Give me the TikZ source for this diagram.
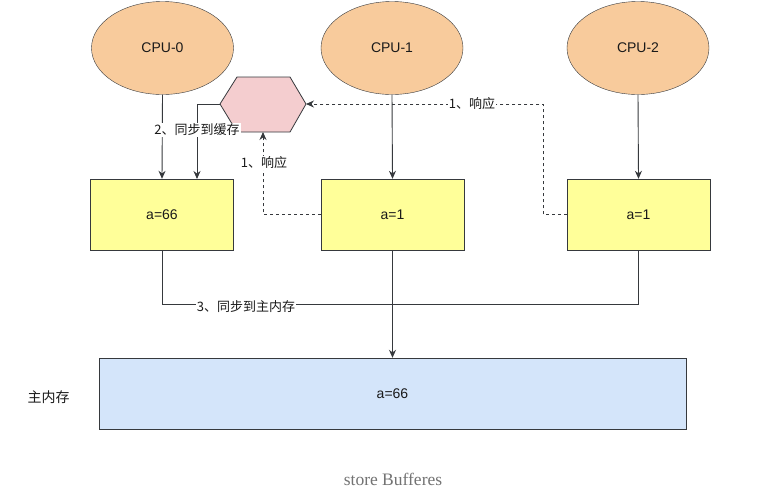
\documentclass[tikz,border=0pt]{standalone}
\usepackage{fontspec}
\setmainfont{Liberation Sans}
\newfontfamily\cjk{Noto Sans CJK SC}
\newfontfamily\capfont{Liberation Serif}
\usetikzlibrary{arrows.meta,shapes.geometric}
\definecolor{cpuf}{HTML}{F8CB9C}
\definecolor{edgec}{HTML}{36393D}
\definecolor{yelf}{HTML}{FFFF99}
\definecolor{hexf}{HTML}{F4CDCF}
\definecolor{memf}{HTML}{D4E5FA}
\definecolor{txt}{HTML}{1A1A1A}
\tikzset{
  cpu/.style={ellipse,draw=edgec,fill=cpuf,minimum width=142pt,minimum height=93pt,inner sep=0pt,font=\fontsize{14}{16}\selectfont,text=txt},
  cache/.style={rectangle,draw=edgec,fill=yelf,minimum width=143pt,minimum height=71pt,inner sep=0pt,font=\fontsize{14}{16}\selectfont,text=txt},
  lbl/.style={fill=white,inner sep=1pt,font=\cjk\fontsize{13}{15}\selectfont,text=txt},
  conn/.style={draw=edgec,line width=0.9pt},
  arr/.style={conn,-{Stealth[length=8pt,width=7pt]}},
  darr/.style={conn,dashed,dash pattern=on 3pt off 3pt,-{Stealth[length=8pt,width=7pt]}}
}
\begin{document}
\begin{tikzpicture}[x=1pt,y=-1pt]
\path[use as bounding box,fill=white] (0,0) rectangle (766,496);
% CPUs
\node[cpu] (c0) at (162.5,48) {CPU-0};
\node[cpu] (c1) at (392,48) {CPU-1};
\node[cpu] (c2) at (638,48) {CPU-2};
% caches
\node[cache] (b0) at (162,214.5) {a=66};
\node[cache] (b1) at (392.5,214.5) {a=1};
\node[cache] (b2) at (638.5,214.5) {a=1};
% hexagon (store buffer)
\filldraw[draw=edgec,fill=hexf,line width=0.8pt] (220,104) coordinate (hl) -- (237,77) -- (290,77) -- (306,104) coordinate (hr) -- (290,132) -- (263,132) coordinate (hb) -- (237,132) -- cycle;
\node[inner sep=0pt,minimum width=86pt,minimum height=55pt] (hex) at (263,104.5) {};
% main memory
\node[rectangle,draw=edgec,fill=memf,minimum width=587pt,minimum height=71pt,inner sep=0pt,font=\fontsize{14}{16}\selectfont,text=txt] (mem) at (392.5,393.5) {a=66};
\node[font=\cjk\fontsize{14}{16}\selectfont,text=txt] (memlbl) at (48.5,397) {主内存};
% caption
\node[font=\capfont\fontsize{17.5}{20}\selectfont,text=black!55] (cap) at (393,479) {store Bufferes};
% connectors
\draw[arr] (c0.south) -- (b0.north);
\draw[arr] (hl) -- (197,104) -- (197,179);
\node[lbl] (l2) at (197,130) {2、同步到缓存};
\draw[arr] (c1.south) -- (b1.north);
\draw[arr] (c2.south) -- (b2.north);
\draw[darr] (b1.west) -- (263,214.5) -- (hb);
\node[lbl] (l1a) at (264,163) {1、响应};
\draw[darr] (b2.west) -- (543,214.5) -- (543,104) -- (hr);
\node[lbl] (l1b) at (472,104) {1、响应};
\draw[conn] (b0.south) -- (162,304) -- (638.5,304) -- (b2.south);
\node[lbl] (l3) at (246,307) {3、同步到主内存};
\draw[arr] (b1.south) -- (mem.north);
\end{tikzpicture}
\end{document}
